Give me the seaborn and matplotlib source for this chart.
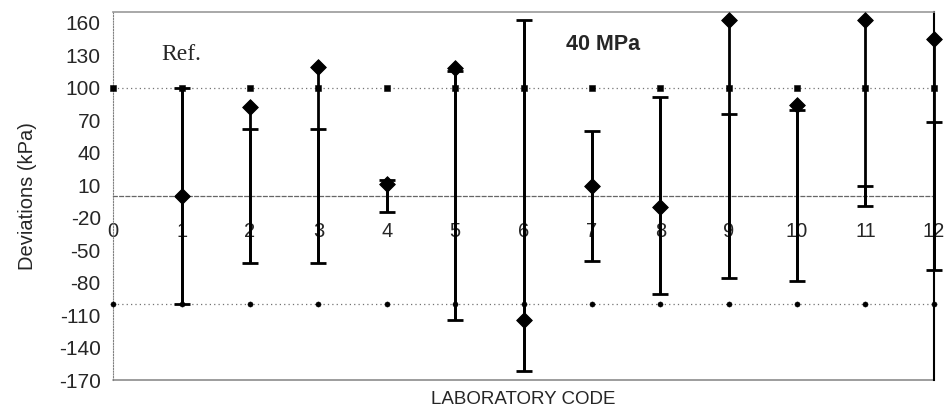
import numpy as np
import matplotlib
matplotlib.use("Agg")
import matplotlib.pyplot as plt
import seaborn as sns

sns.set_style("white")
plt.rcParams['font.family'] = ['Liberation Sans', 'DejaVu Sans']
plt.rcParams['axes.unicode_minus'] = False

# laboratory results at 40 MPa
labs = [1, 2, 3, 4, 5, 6, 7, 8, 9, 10, 11, 12]
deviations = [0, 82, 119, 11, 118, -115, 9, -10, 162, 84, 162, 145]
uncertainty = [100, 62, 62, 15, 115, 162, 60, 91, 76, 79, 9, 68]

# reference bounds drawn at every code
codes = list(range(0, 13))
ref_limit = 100

yticks = list(range(-170, 161, 30))

fig, ax = plt.subplots(figsize=(9.49, 4.17), dpi=100)
fig.subplots_adjust(left=0.1194, right=0.984, top=0.972, bottom=0.0887)

# dotted reference lines
ax.axhline(ref_limit, color="0.45", lw=0.9, ls=(0, (1, 2.5)), zorder=1)
ax.axhline(-ref_limit, color="0.45", lw=0.9, ls=(0, (1, 2.5)), zorder=1)

# uncertainty bars (centred on zero) plus line up to the measured point
zeros = np.zeros(len(labs))
bars = ax.errorbar(labs, zeros, yerr=uncertainty, fmt="none", ecolor="black",
                   elinewidth=2, capsize=6, capthick=2, zorder=3)
for art in bars.lines[1] + bars.lines[2]:
    art.set_clip_on(False)
lo = [min(-u, d) for u, d in zip(uncertainty, deviations)]
hi = [max(u, d) for u, d in zip(uncertainty, deviations)]
ax.vlines(labs, lo, hi, color="black", lw=2, zorder=3, clip_on=False)

sns.scatterplot(x=codes, y=[ref_limit] * len(codes), marker="s", s=22,
                color="black", edgecolor="black", ax=ax, zorder=4, clip_on=False)
sns.scatterplot(x=codes, y=[-ref_limit] * len(codes), marker="o", s=14,
                color="black", edgecolor="black", ax=ax, zorder=4, clip_on=False)
sns.scatterplot(x=labs, y=deviations, marker="D", s=64, color="black",
                edgecolor="black", ax=ax, zorder=5, clip_on=False)

ax.set_xlim(0, 12)
ax.set_ylim(-170, 170)
ax.set_yticks(yticks)
ax.set_xticks(codes)
ax.tick_params(axis="y", labelsize=15, length=4, color="0.5", pad=5)
ax.tick_params(axis="x", labelsize=14.5, length=0, pad=19)

# x axis crosses at zero, Excel style
ax.spines["bottom"].set_position(("data", 0))
ax.spines["bottom"].set_color("0.4")
ax.spines["bottom"].set_linestyle((0, (3, 2)))
ax.spines["bottom"].set_linewidth(0.9)
ax.spines["left"].set_color("0.5")
ax.spines["left"].set_linestyle((0, (1, 1.5)))
ax.spines["top"].set_color("0.6")
ax.spines["top"].set_linewidth(1.2)
ax.spines["right"].set_color("black")
ax.spines["right"].set_linewidth(1.5)
ax.axhline(-170, color="0.55", lw=1.2, clip_on=False)

ax.set_ylabel("Deviations (kPa)", fontsize=14.5, labelpad=16)
ax.set_xlabel("LABORATORY CODE", fontsize=13.5)
ax.xaxis.set_label_coords(0.5, -0.03)

ax.text(0.71, 125, "Ref.", fontsize=17, family=["Liberation Serif", "DejaVu Serif"],
        ha="left", va="baseline")
ax.text(6.62, 135, "40 MPa", fontsize=15.5, fontweight="bold", ha="left", va="baseline")

fig.savefig("out.png", dpi=100)
